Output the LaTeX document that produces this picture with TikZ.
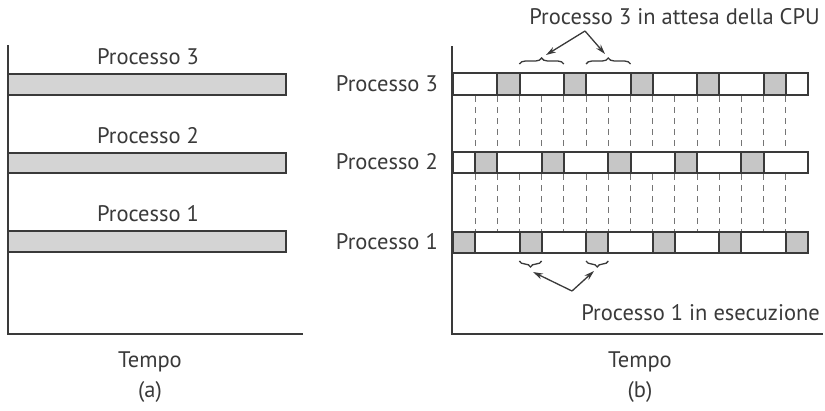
\documentclass[tikz,border=0pt]{standalone}
\usepackage{fontspec}
\setmainfont{PT Sans}
\usetikzlibrary{decorations.pathreplacing,arrows.meta}
\definecolor{ink}{HTML}{3A3A3A}
\definecolor{barfill}{HTML}{D4D4D4}
\definecolor{cellfill}{HTML}{C6C6C6}
\begin{document}
\begin{tikzpicture}[x=1pt,y=-1pt,
  axisline/.style={draw=ink,line width=2.2pt},
  barbox/.style={draw=ink,line width=2.2pt,fill=barfill},
  rowbox/.style={draw=ink,line width=2.2pt},
  divider/.style={draw=ink,line width=2pt},
  grayc/.style={fill=cellfill},
  guide/.style={draw=ink!70,line width=1pt,dash pattern=on 6pt off 5pt},
  lbl/.style={font=\fontsize{22.5}{26}\selectfont,text=ink,inner sep=0pt},
  bracedown/.style={draw=ink,line width=1.3pt,decorate,decoration={brace,amplitude=6pt}},
  braceup/.style={draw=ink,line width=1.3pt,decorate,decoration={brace,amplitude=6pt,mirror}},
  pointer/.style={draw=ink,line width=1.3pt,-{Stealth[length=10pt,width=6pt]}}]
\useasboundingbox (0,0) rectangle (825,410);
\fill[white] (0,0) rectangle (825,410);
% ---------- (a) ----------
\draw[barbox] (8,74) rectangle (286,95);
\draw[barbox] (8,153) rectangle (286,173);
\draw[barbox] (8,231) rectangle (286,252);
\draw[axisline] (8,45) -- (8,334) -- (303,334);
\node[lbl] (a3) at (148,57) {Processo 3};
\node[lbl] (a2) at (148,136) {Processo 2};
\node[lbl] (a1) at (148,214) {Processo 1};
\node[lbl] (ta) at (150,362) {Tempo};
\node[lbl] (la) at (150,392) {(a)};
% ---------- (b) ----------
\def\pw{22.1875}
% dashed guides
\foreach \i in {1,...,15}{
  \draw[guide] ({453+\i*\pw},96) -- ({453+\i*\pw},152);
  \draw[guide] ({453+\i*\pw},174) -- ({453+\i*\pw},232);
}
% row 3
\foreach \i in {2,5,8,11,14} \fill[grayc] ({453+\i*\pw},73) rectangle ++(\pw,22);
\foreach \i in {2,3,5,6,8,9,11,12,14,15} \draw[divider] ({453+\i*\pw},73) -- ({453+\i*\pw},95);
\draw[rowbox] (453,73) rectangle (808,95);
% row 2
\foreach \i in {1,4,7,10,13} \fill[grayc] ({453+\i*\pw},152) rectangle ++(\pw,21);
\foreach \i in {1,2,4,5,7,8,10,11,13,14} \draw[divider] ({453+\i*\pw},152) -- ({453+\i*\pw},173);
\draw[rowbox] (453,152) rectangle (808,173);
% row 1
\foreach \i in {0,3,6,9,12,15} \fill[grayc] ({453+\i*\pw},232) rectangle ++(\pw,21);
\foreach \i in {1,3,4,6,7,9,10,12,13,15} \draw[divider] ({453+\i*\pw},232) -- ({453+\i*\pw},253);
\draw[rowbox] (453,232) rectangle (808,253);
\draw[axisline] (452,46) -- (452,334) -- (823,334);
\node[lbl,anchor=east] (b3) at (438,84) {Processo 3};
\node[lbl,anchor=east] (b2) at (438,162) {Processo 2};
\node[lbl,anchor=east] (b1) at (438,242) {Processo 1};
\node[lbl] (tb) at (640,362) {Tempo};
\node[lbl] (lb) at (640,392) {(b)};
% braces and pointers, top
\node[lbl,anchor=east] (wait) at (820,17) {Processo 3 in attesa della CPU};
\draw[bracedown] (519.4,64) -- (563.8,64);
\draw[bracedown] (586.1,64) -- (630.5,64);
\coordinate (wapex) at (585,31);
\coordinate (wt1) at (546,55);
\coordinate (wt2) at (605,54);
\draw[pointer] (wapex) -- (wt1);
\draw[pointer] (wapex) -- (wt2);
% braces and pointers, bottom
\node[lbl,anchor=east] (run) at (820,313) {Processo 1 in esecuzione};
\draw[braceup] (519.4,261) -- (541.6,261);
\draw[braceup] (586.1,261) -- (608.3,261);
\coordinate (rapex) at (572,291);
\coordinate (rt1) at (533,272);
\coordinate (rt2) at (594,271);
\draw[pointer] (rapex) -- (rt1);
\draw[pointer] (rapex) -- (rt2);
\end{tikzpicture}
\end{document}
